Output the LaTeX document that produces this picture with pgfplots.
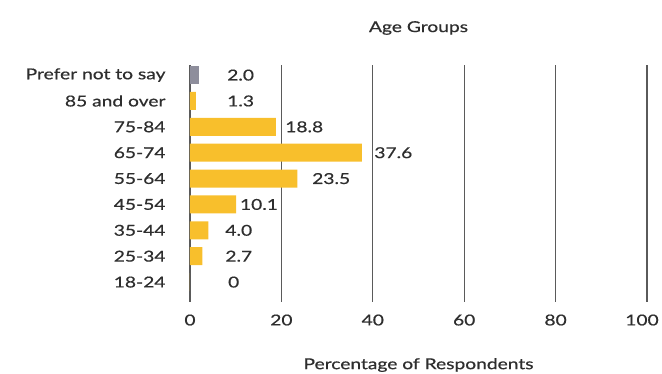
\documentclass[border=0pt]{standalone}
\usepackage{pgfplots}
\pgfplotsset{compat=1.18}
\usepackage{fontspec}
\setmainfont{Lato}[FakeStretch=1.28, FakeBold=0.6]
\definecolor{baryellow}{HTML}{F8BF2C}
\definecolor{bargrey}{HTML}{8E8E9C}
\definecolor{gridgrey}{HTML}{5A5A5A}
\definecolor{txt}{HTML}{2E2E2E}
\begin{document}
\begin{tikzpicture}[x=1pt,y=1pt]
\path[use as bounding box] (0,0) rectangle (662,374);
\begin{axis}[
  at={(190pt,72pt)}, anchor=south west,
  width=457pt, height=237pt, scale only axis,
  xmin=0, xmax=100, ymin=-0.77, ymax=8.39,
  xtick={0,20,40,60,80,100},
  xticklabels={0,20,40,60,80,\hspace*{-10pt}100},
  ytick={0,1,2,3,4,5,6,7,8},
  yticklabels={18-24,25-34,35-44,45-54,55-64,65-74,75-84,85 and over,Prefer not to say},
  xmajorgrids, grid style={gridgrey, line width=1.3pt},
  axis line style={draw=none},
  major tick length=0pt,
  tick label style={font=\fontsize{15}{17}\selectfont, text=txt},
  xticklabel style={yshift=-9pt},
  yticklabel style={xshift=-21pt},
  xlabel={Percentage of Respondents},
  every axis x label/.style={at={(axis description cs:0.5,0)}, anchor=center, yshift=-63pt, font=\fontsize{15}{17}\selectfont, text=txt},
  title={Age Groups},
  every axis title/.style={at={(axis description cs:0.5,1)}, anchor=center, yshift=37pt, font=\fontsize{15}{17}\selectfont, text=txt},
  clip=false,
]
\addplot[xbar, bar width=18pt, bar shift=0pt, fill=baryellow, draw=none] coordinates {
  (0,0) (2.7,1) (4.0,2) (10.1,3) (23.5,4) (37.6,5) (18.8,6) (1.3,7)
};
\addplot[xbar, bar width=18pt, bar shift=0pt, fill=bargrey, draw=none] coordinates {
  (2.0,8)
};
\addplot[only marks, mark=none, nodes near coords, point meta=explicit symbolic,
  nodes near coords style={anchor=west, inner sep=0pt, font=\fontsize{15}{17}\selectfont, text=txt}]
  table[meta=lab] {
x y lab
8.3 0 0
7.7 1 2.7
7.7 2 4.0
10.9 3 10.1
26.7 4 23.5
40.3 5 37.6
20.8 6 18.8
8.1 7 1.3
8.1 8 2.0
};
\end{axis}
\end{tikzpicture}
\end{document}
